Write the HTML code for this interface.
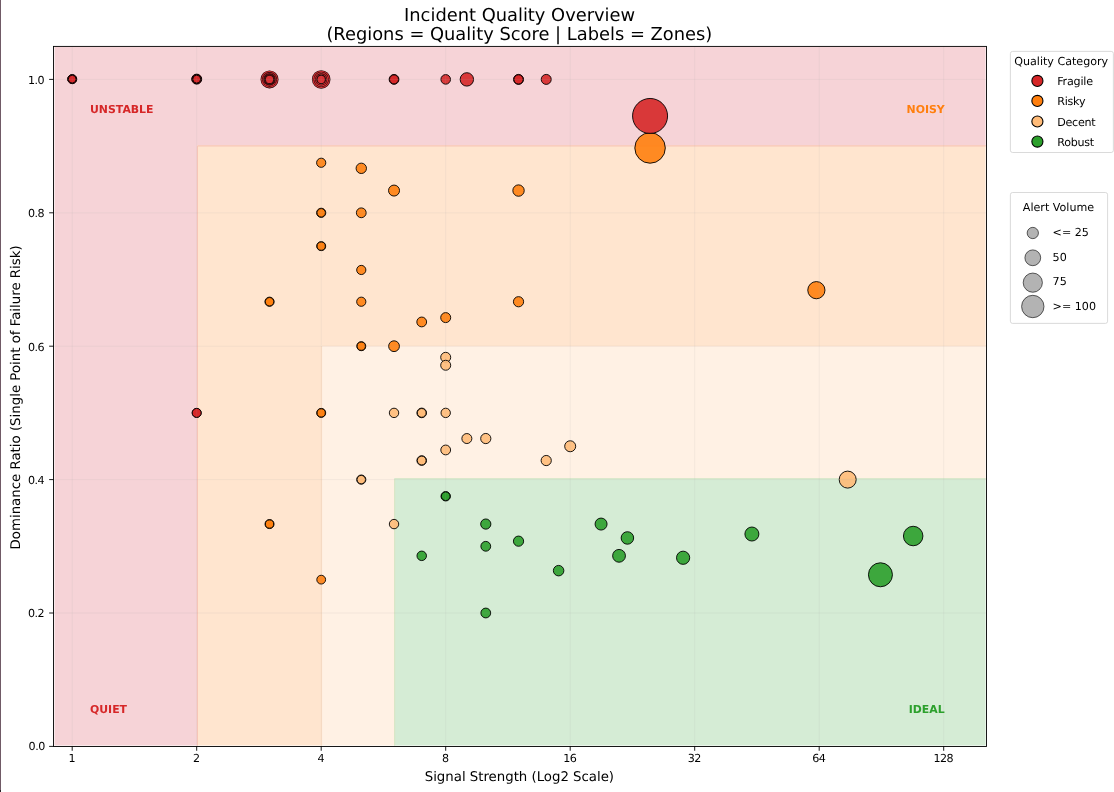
<!DOCTYPE html>
<html><head><meta charset="utf-8"><title>Incident Quality Overview</title>
<style>
html,body{margin:0;padding:0;background:#fff;}
body{width:1114px;height:792px;overflow:hidden;}
svg{display:block;}
text{font-family:"DejaVu Sans","Liberation Sans",sans-serif;fill:#000;text-rendering:geometricPrecision;}
.t10{font-size:11.11px;}
.t12{font-size:13.33px;}
.t16{font-size:17.85px;}
.b{font-weight:bold;font-size:10.9px;}
</style></head><body>
<svg width="1114" height="792" viewBox="0 0 1114 792">
<rect x="0" y="0" width="1114" height="792" fill="#ffffff"/>
<rect x="0" y="0" width="1" height="792" fill="#705a66"/>
<rect x="0" y="790" width="1" height="2" fill="#2a2226"/>

<path d="M54.5 46.4 H985.6 V146.3 H197.9 V745.5 H54.5 Z" fill="#f6d3d7"/>
<path d="M196.9 145.3 H985.6 V346.2 H322.0 V745.5 H196.9 Z" fill="#ffe5cf"/>
<path d="M321.0 345.2 H985.6 V479.2 H395.1 V745.5 H321.0 Z" fill="#fff1e4"/>
<path d="M394.1 478.2 H985.6 V745.5 H394.1 Z" fill="#d5ecd5"/>
<path d="M197.45000000000002 745.5 V146.5 L198.1 145.85000000000002 H985.6" fill="none" stroke="#f8c6b8" stroke-width="1.1"/>
<path d="M321.55 745.5 V346.4 L322.2 345.75 H985.6" fill="none" stroke="#fde0c6" stroke-width="1.1"/>
<path d="M394.65000000000003 745.5 V479.4 L395.3 478.75 H985.6" fill="none" stroke="#d9e6c6" stroke-width="1.1"/>
<g stroke="#000" stroke-width="1.0" opacity="1">
<circle cx="72.20" cy="79.13" r="4.50" fill="#d62728" fill-opacity="0.9" stroke-opacity="0.9"/>
<circle cx="72.20" cy="79.13" r="4.50" fill="#d62728" fill-opacity="0.9" stroke-opacity="0.9"/>
<circle cx="72.20" cy="79.13" r="3.90" fill="#d62728" fill-opacity="0.9" stroke-opacity="0.9"/>
<circle cx="72.20" cy="79.13" r="3.90" fill="#d62728" fill-opacity="0.9" stroke-opacity="0.9"/>
<circle cx="196.70" cy="79.13" r="5.00" fill="#d62728" fill-opacity="0.9" stroke-opacity="0.9"/>
<circle cx="196.70" cy="79.13" r="4.50" fill="#d62728" fill-opacity="0.9" stroke-opacity="0.9"/>
<circle cx="196.70" cy="79.13" r="4.50" fill="#d62728" fill-opacity="0.9" stroke-opacity="0.9"/>
<circle cx="196.70" cy="79.13" r="3.95" fill="#d62728" fill-opacity="0.9" stroke-opacity="0.9"/>
<circle cx="196.70" cy="79.13" r="3.95" fill="#d62728" fill-opacity="0.9" stroke-opacity="0.9"/>
<circle cx="394.03" cy="79.40" r="4.90" fill="#d62728" fill-opacity="0.9" stroke-opacity="0.9"/>
<circle cx="394.03" cy="79.40" r="4.50" fill="#d62728" fill-opacity="0.9" stroke-opacity="0.9"/>
<circle cx="445.70" cy="79.40" r="4.80" fill="#d62728" fill-opacity="0.9" stroke-opacity="0.9"/>
<circle cx="466.86" cy="79.40" r="6.70" fill="#d62728" fill-opacity="0.9" stroke-opacity="0.9"/>
<circle cx="518.53" cy="79.40" r="5.00" fill="#d62728" fill-opacity="0.9" stroke-opacity="0.9"/>
<circle cx="518.53" cy="79.40" r="4.60" fill="#d62728" fill-opacity="0.9" stroke-opacity="0.9"/>
<circle cx="546.22" cy="79.40" r="5.00" fill="#d62728" fill-opacity="0.9" stroke-opacity="0.9"/>
<circle cx="196.70" cy="412.90" r="4.50" fill="#d62728" fill-opacity="0.9" stroke-opacity="0.9"/>
<circle cx="196.70" cy="412.90" r="4.50" fill="#d62728" fill-opacity="0.9" stroke-opacity="0.9"/>
<circle cx="650.07" cy="147.97" r="15.25" fill="#ff7f0e" fill-opacity="0.9" stroke-opacity="0.9"/>
<circle cx="650.07" cy="115.95" r="17.50" fill="#d62728" fill-opacity="0.9" stroke-opacity="0.9"/>
<circle cx="321.20" cy="162.77" r="4.60" fill="#ff7f0e" fill-opacity="0.9" stroke-opacity="0.9"/>
<circle cx="361.28" cy="168.33" r="5.20" fill="#ff7f0e" fill-opacity="0.9" stroke-opacity="0.9"/>
<circle cx="394.03" cy="190.57" r="5.50" fill="#ff7f0e" fill-opacity="0.9" stroke-opacity="0.9"/>
<circle cx="518.53" cy="190.57" r="5.70" fill="#ff7f0e" fill-opacity="0.9" stroke-opacity="0.9"/>
<circle cx="321.20" cy="212.80" r="4.60" fill="#ff7f0e" fill-opacity="0.9" stroke-opacity="0.9"/>
<circle cx="321.20" cy="212.80" r="4.20" fill="#ff7f0e" fill-opacity="0.9" stroke-opacity="0.9"/>
<circle cx="361.28" cy="212.80" r="4.90" fill="#ff7f0e" fill-opacity="0.9" stroke-opacity="0.9"/>
<circle cx="321.20" cy="246.15" r="4.50" fill="#ff7f0e" fill-opacity="0.9" stroke-opacity="0.9"/>
<circle cx="321.20" cy="246.15" r="4.10" fill="#ff7f0e" fill-opacity="0.9" stroke-opacity="0.9"/>
<circle cx="361.28" cy="269.97" r="4.60" fill="#ff7f0e" fill-opacity="0.9" stroke-opacity="0.9"/>
<circle cx="269.53" cy="301.73" r="4.60" fill="#ff7f0e" fill-opacity="0.9" stroke-opacity="0.9"/>
<circle cx="269.53" cy="301.73" r="4.20" fill="#ff7f0e" fill-opacity="0.9" stroke-opacity="0.9"/>
<circle cx="361.28" cy="301.73" r="4.60" fill="#ff7f0e" fill-opacity="0.9" stroke-opacity="0.9"/>
<circle cx="518.53" cy="301.73" r="5.10" fill="#ff7f0e" fill-opacity="0.9" stroke-opacity="0.9"/>
<circle cx="421.72" cy="321.95" r="4.90" fill="#ff7f0e" fill-opacity="0.9" stroke-opacity="0.9"/>
<circle cx="445.70" cy="317.61" r="5.00" fill="#ff7f0e" fill-opacity="0.9" stroke-opacity="0.9"/>
<circle cx="361.28" cy="346.20" r="4.50" fill="#ff7f0e" fill-opacity="0.9" stroke-opacity="0.9"/>
<circle cx="361.28" cy="346.20" r="4.10" fill="#ff7f0e" fill-opacity="0.9" stroke-opacity="0.9"/>
<circle cx="394.03" cy="346.20" r="5.40" fill="#ff7f0e" fill-opacity="0.9" stroke-opacity="0.9"/>
<circle cx="321.20" cy="412.90" r="4.50" fill="#ff7f0e" fill-opacity="0.9" stroke-opacity="0.9"/>
<circle cx="321.20" cy="412.90" r="4.10" fill="#ff7f0e" fill-opacity="0.9" stroke-opacity="0.9"/>
<circle cx="269.53" cy="524.07" r="4.50" fill="#ff7f0e" fill-opacity="0.9" stroke-opacity="0.9"/>
<circle cx="269.53" cy="524.07" r="4.10" fill="#ff7f0e" fill-opacity="0.9" stroke-opacity="0.9"/>
<circle cx="321.20" cy="579.65" r="4.40" fill="#ff7f0e" fill-opacity="0.9" stroke-opacity="0.9"/>
<circle cx="816.37" cy="290.17" r="8.60" fill="#ff7f0e" fill-opacity="0.9" stroke-opacity="0.9"/>
<circle cx="445.70" cy="357.32" r="5.00" fill="#ffbb78" fill-opacity="0.9" stroke-opacity="0.9"/>
<circle cx="445.70" cy="365.26" r="5.00" fill="#ffbb78" fill-opacity="0.9" stroke-opacity="0.9"/>
<circle cx="394.03" cy="412.90" r="4.70" fill="#ffbb78" fill-opacity="0.9" stroke-opacity="0.9"/>
<circle cx="421.72" cy="412.90" r="4.80" fill="#ffbb78" fill-opacity="0.9" stroke-opacity="0.9"/>
<circle cx="421.72" cy="412.90" r="4.40" fill="#ffbb78" fill-opacity="0.9" stroke-opacity="0.9"/>
<circle cx="445.70" cy="412.90" r="4.70" fill="#ffbb78" fill-opacity="0.9" stroke-opacity="0.9"/>
<circle cx="466.86" cy="438.55" r="5.00" fill="#ffbb78" fill-opacity="0.9" stroke-opacity="0.9"/>
<circle cx="485.78" cy="438.55" r="5.10" fill="#ffbb78" fill-opacity="0.9" stroke-opacity="0.9"/>
<circle cx="445.70" cy="449.96" r="4.90" fill="#ffbb78" fill-opacity="0.9" stroke-opacity="0.9"/>
<circle cx="421.72" cy="460.54" r="4.80" fill="#ffbb78" fill-opacity="0.9" stroke-opacity="0.9"/>
<circle cx="421.72" cy="460.54" r="4.40" fill="#ffbb78" fill-opacity="0.9" stroke-opacity="0.9"/>
<circle cx="361.28" cy="479.60" r="4.60" fill="#ffbb78" fill-opacity="0.9" stroke-opacity="0.9"/>
<circle cx="361.28" cy="479.60" r="4.20" fill="#ffbb78" fill-opacity="0.9" stroke-opacity="0.9"/>
<circle cx="394.03" cy="524.07" r="4.70" fill="#ffbb78" fill-opacity="0.9" stroke-opacity="0.9"/>
<circle cx="570.20" cy="446.25" r="5.50" fill="#ffbb78" fill-opacity="0.9" stroke-opacity="0.9"/>
<circle cx="546.22" cy="460.54" r="5.10" fill="#ffbb78" fill-opacity="0.9" stroke-opacity="0.9"/>
<circle cx="847.69" cy="479.60" r="8.50" fill="#ffbb78" fill-opacity="0.9" stroke-opacity="0.9"/>
<circle cx="445.70" cy="496.27" r="4.70" fill="#2ca02c" fill-opacity="0.9" stroke-opacity="0.9"/>
<circle cx="445.70" cy="496.27" r="4.30" fill="#2ca02c" fill-opacity="0.9" stroke-opacity="0.9"/>
<circle cx="485.78" cy="524.07" r="5.10" fill="#2ca02c" fill-opacity="0.9" stroke-opacity="0.9"/>
<circle cx="421.72" cy="555.83" r="4.75" fill="#2ca02c" fill-opacity="0.9" stroke-opacity="0.9"/>
<circle cx="485.78" cy="546.30" r="4.90" fill="#2ca02c" fill-opacity="0.9" stroke-opacity="0.9"/>
<circle cx="518.53" cy="541.17" r="5.10" fill="#2ca02c" fill-opacity="0.9" stroke-opacity="0.9"/>
<circle cx="485.78" cy="613.00" r="4.90" fill="#2ca02c" fill-opacity="0.9" stroke-opacity="0.9"/>
<circle cx="601.07" cy="524.07" r="6.00" fill="#2ca02c" fill-opacity="0.9" stroke-opacity="0.9"/>
<circle cx="627.40" cy="537.96" r="6.25" fill="#2ca02c" fill-opacity="0.9" stroke-opacity="0.9"/>
<circle cx="619.04" cy="555.83" r="6.40" fill="#2ca02c" fill-opacity="0.9" stroke-opacity="0.9"/>
<circle cx="558.61" cy="570.65" r="5.25" fill="#2ca02c" fill-opacity="0.9" stroke-opacity="0.9"/>
<circle cx="683.11" cy="557.77" r="6.60" fill="#2ca02c" fill-opacity="0.9" stroke-opacity="0.9"/>
<circle cx="751.90" cy="534.03" r="7.00" fill="#2ca02c" fill-opacity="0.9" stroke-opacity="0.9"/>
<circle cx="913.18" cy="536.03" r="9.75" fill="#2ca02c" fill-opacity="0.9" stroke-opacity="0.9"/>
<circle cx="880.44" cy="574.78" r="12.00" fill="#2ca02c" fill-opacity="0.9" stroke-opacity="0.9"/>
</g>
<defs><filter id="sb" x="-20%" y="-20%" width="140%" height="140%"><feGaussianBlur stdDeviation="0.3"/></filter></defs>
<g filter="url(#sb)">
<circle cx="269.53" cy="79.40" r="9.0" fill="#1c0a0a"/>
<circle cx="269.53" cy="79.40" r="8.4" fill="#da3035"/>
<circle cx="269.53" cy="79.40" r="7.3" fill="#1c0a0a"/>
<circle cx="269.53" cy="79.40" r="6.7" fill="#da3035"/>
<circle cx="269.53" cy="79.40" r="6.15" fill="#1c0a0a"/>
<circle cx="269.53" cy="79.40" r="5.6" fill="#7a1517"/>
<circle cx="269.53" cy="79.40" r="5.3" fill="#1c0a0a"/>
<circle cx="269.53" cy="79.40" r="4.8" fill="#7a1517"/>
<circle cx="269.53" cy="79.40" r="4.5" fill="#1c0a0a"/>
<circle cx="269.53" cy="79.40" r="3.65" fill="#da3035"/>
</g>
<g filter="url(#sb)">
<circle cx="321.20" cy="79.40" r="9.25" fill="#1c0a0a"/>
<circle cx="321.20" cy="79.40" r="8.65" fill="#da3035"/>
<circle cx="321.20" cy="79.40" r="7.65" fill="#1c0a0a"/>
<circle cx="321.20" cy="79.40" r="7.05" fill="#da3035"/>
<circle cx="321.20" cy="79.40" r="6.05" fill="#1c0a0a"/>
<circle cx="321.20" cy="79.40" r="5.45" fill="#da3035"/>
<circle cx="321.20" cy="79.40" r="4.85" fill="#1c0a0a"/>
<circle cx="321.20" cy="79.40" r="3.65" fill="#da3035"/>
</g>
<g stroke="#b0b0b0" stroke-opacity="0.15" stroke-width="0.9">
<line x1="72.20" y1="46.4" x2="72.20" y2="746.4"/>
<line x1="196.70" y1="46.4" x2="196.70" y2="746.4"/>
<line x1="321.20" y1="46.4" x2="321.20" y2="746.4"/>
<line x1="445.70" y1="46.4" x2="445.70" y2="746.4"/>
<line x1="570.20" y1="46.4" x2="570.20" y2="746.4"/>
<line x1="694.70" y1="46.4" x2="694.70" y2="746.4"/>
<line x1="819.20" y1="46.4" x2="819.20" y2="746.4"/>
<line x1="943.70" y1="46.4" x2="943.70" y2="746.4"/>
<line x1="53.5" y1="746.40" x2="986.5" y2="746.40"/>
<line x1="53.5" y1="613.00" x2="986.5" y2="613.00"/>
<line x1="53.5" y1="479.60" x2="986.5" y2="479.60"/>
<line x1="53.5" y1="346.20" x2="986.5" y2="346.20"/>
<line x1="53.5" y1="212.80" x2="986.5" y2="212.80"/>
<line x1="53.5" y1="79.40" x2="986.5" y2="79.40"/>
</g>
<rect x="53.5" y="46.4" width="933.0" height="700.1" fill="none" stroke="#000" stroke-width="0.9"/>
<g stroke="#000" stroke-width="0.9">
<line x1="72.20" y1="746.4" x2="72.20" y2="750.75"/>
<line x1="196.70" y1="746.4" x2="196.70" y2="750.75"/>
<line x1="321.20" y1="746.4" x2="321.20" y2="750.75"/>
<line x1="445.70" y1="746.4" x2="445.70" y2="750.75"/>
<line x1="570.20" y1="746.4" x2="570.20" y2="750.75"/>
<line x1="694.70" y1="746.4" x2="694.70" y2="750.75"/>
<line x1="819.20" y1="746.4" x2="819.20" y2="750.75"/>
<line x1="943.70" y1="746.4" x2="943.70" y2="750.75"/>
<line x1="53.5" y1="746.40" x2="49.15" y2="746.40"/>
<line x1="53.5" y1="613.00" x2="49.15" y2="613.00"/>
<line x1="53.5" y1="479.60" x2="49.15" y2="479.60"/>
<line x1="53.5" y1="346.20" x2="49.15" y2="346.20"/>
<line x1="53.5" y1="212.80" x2="49.15" y2="212.80"/>
<line x1="53.5" y1="79.40" x2="49.15" y2="79.40"/>
</g>
<g class="t10">
<text x="68.47" y="762.35" textLength="7.07">1</text>
<text x="192.97" y="762.35" textLength="7.07">2</text>
<text x="317.47" y="762.35" textLength="7.07">4</text>
<text x="441.97" y="762.35" textLength="7.07">8</text>
<text x="563.18" y="762.35" textLength="13.64">16</text>
<text x="687.68" y="762.35" textLength="13.64">32</text>
<text x="812.18" y="762.35" textLength="13.64">64</text>
<text x="933.40" y="762.35" textLength="20.21">128</text>
<text x="28.6" y="750.20" textLength="16.65">0.0</text>
<text x="27.9" y="617.30" textLength="16.65">0.2</text>
<text x="27.9" y="483.90" textLength="16.65">0.4</text>
<text x="27.9" y="350.50" textLength="16.65">0.6</text>
<text x="27.9" y="217.10" textLength="16.65">0.8</text>
<text x="27.9" y="83.70" textLength="16.65">1.0</text>
</g>
<text class="t12" x="519.4" y="780.6" text-anchor="middle" textLength="189.3">Signal Strength (Log2 Scale)</text>
<text class="t12" transform="translate(19.5 397.4) rotate(-90)" text-anchor="middle">Dominance Ratio (Single Point of Failure Risk)</text>
<text class="t16" x="519.6" y="20.9" text-anchor="middle">Incident Quality Overview</text>
<text class="t16" x="519.3" y="39.8" text-anchor="middle">(Regions = Quality Score | Labels = Zones)</text>
<text class="t10 b" x="90.0" y="113" style="fill:#d62728">UNSTABLE</text>
<text class="t10 b" x="944.7" y="112.9" text-anchor="end" style="fill:#ff7f0e">NOISY</text>
<text class="t10 b" x="90.0" y="713" style="fill:#d62728">QUIET</text>
<text class="t10 b" x="944.7" y="712.9" text-anchor="end" style="fill:#2ca02c">IDEAL</text>
<rect x="1010.4" y="51.4" width="103" height="101.1" rx="2.2" fill="#fff" fill-opacity="0.8" stroke="#cccccc" stroke-opacity="0.8" stroke-width="0.9"/>
<text class="t10" x="1061.2" y="64.6" text-anchor="middle">Quality Category</text>
<circle cx="1037.4" cy="80.9" r="5.55" fill="#d62728" stroke="#000" stroke-width="1.1"/>
<text class="t10" x="1057.2" y="84.9" textLength="35.84">Fragile</text>
<circle cx="1037.4" cy="100.9" r="5.55" fill="#ff7f0e" stroke="#000" stroke-width="1.1"/>
<text class="t10" x="1057.2" y="104.9" textLength="28.27">Risky</text>
<circle cx="1037.4" cy="121.5" r="5.55" fill="#ffbb78" stroke="#000" stroke-width="1.1"/>
<text class="t10" x="1057.2" y="125.5" textLength="38.46">Decent</text>
<circle cx="1037.4" cy="141.6" r="5.55" fill="#2ca02c" stroke="#000" stroke-width="1.1"/>
<text class="t10" x="1057.2" y="145.6" textLength="37.03">Robust</text>
<rect x="1010.4" y="192.5" width="97.2" height="130.9" rx="2.2" fill="#fff" fill-opacity="0.8" stroke="#cccccc" stroke-opacity="0.8" stroke-width="0.9"/>
<text class="t10" x="1058.5" y="211.2" text-anchor="middle">Alert Volume</text>
<circle cx="1032.8" cy="233.0" r="5.65" fill="#808080" fill-opacity="0.6" stroke="#000" stroke-opacity="0.6" stroke-width="1"/>
<text class="t10" x="1052.6" y="236.2">&lt;= 25</text>
<circle cx="1032.8" cy="257.8" r="7.9" fill="#808080" fill-opacity="0.6" stroke="#000" stroke-opacity="0.6" stroke-width="1"/>
<text class="t10" x="1052.6" y="261.3">50</text>
<circle cx="1032.8" cy="282.65" r="9.6" fill="#808080" fill-opacity="0.6" stroke="#000" stroke-opacity="0.6" stroke-width="1"/>
<text class="t10" x="1052.6" y="285.2">75</text>
<circle cx="1032.8" cy="306.5" r="11.2" fill="#808080" fill-opacity="0.6" stroke="#000" stroke-opacity="0.6" stroke-width="1"/>
<text class="t10" x="1052.6" y="310.1">&gt;= 100</text>
</svg></body></html>
